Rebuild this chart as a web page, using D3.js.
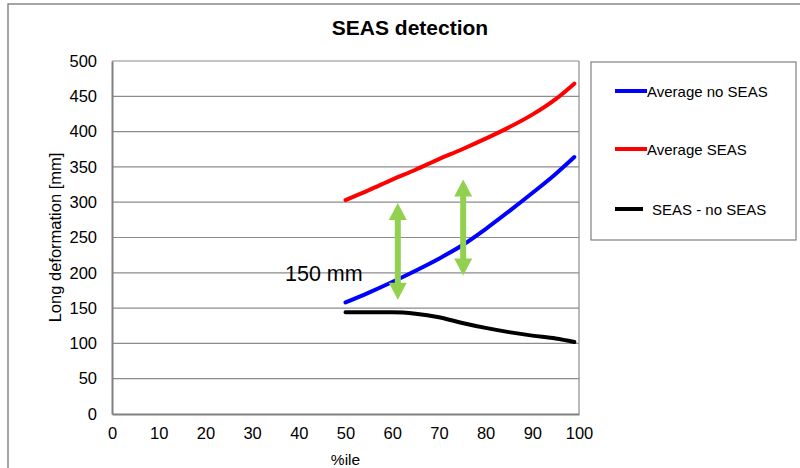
<!DOCTYPE html>
<html>
<head>
<meta charset="utf-8">
<script src="https://cdn.jsdelivr.net/npm/d3@7/dist/d3.min.js"></script>
<style>
  html, body { margin: 0; padding: 0; background: #fff; }
  svg { display: block; font-family: "Liberation Sans", Arial, sans-serif; }
</style>
</head>
<body>
<svg id="chart" width="800" height="468"></svg>
<script>
// Percentile positions along the x axis
const percentiles = [50, 55, 60, 65, 70, 75, 80, 85, 90, 95, 99];
// Long deformation [mm] per series
const avgNoSeas = [158, 172, 187, 203, 220, 239, 262, 287, 313, 340, 364];
const avgSeas   = [303, 317, 332, 346, 361, 375, 390, 406, 424, 446, 468];
const seasDiff  = [144, 144, 144, 142, 137, 129, 122, 116, 111, 107, 102];

const seriesNames  = ["Average no SEAS", "Average SEAS", "SEAS - no SEAS"];
const seriesColors = ["#0000ff", "#ff0000", "#000000"];

const xTicks = [0, 10, 20, 30, 40, 50, 60, 70, 80, 90, 100];
const yTicks = [0, 50, 100, 150, 200, 250, 300, 350, 400, 450, 500];

// Double-headed arrows marking the gap: [percentile, lower mm, upper mm]
const gapArrows = [[61.2, 162, 299], [75.2, 196, 332]];
const gapLabel = "150 mm";

const svg = d3.select("#chart");
const W = 800, H = 468;
const plot = { left: 112, right: 579, top: 61, bottom: 414 };

const x = d3.scaleLinear().domain([0, 100]).range([plot.left, plot.right]);
const y = d3.scaleLinear().domain([0, 500]).range([plot.bottom, plot.top]);

// Outer chart frame
svg.append("rect").attr("x", 8).attr("y", 4).attr("width", W + 10).attr("height", H + 10)
  .attr("fill", "#fff").attr("stroke", "#888").attr("stroke-width", 1.5);

// Title
svg.append("text").attr("x", 410).attr("y", 35).attr("text-anchor", "middle")
  .attr("font-size", 21).attr("font-weight", "bold").attr("fill", "#000")
  .text("SEAS detection");

// Horizontal gridlines
svg.append("g")
  .selectAll("line").data(yTicks.filter(d => d > 0)).join("line")
  .attr("x1", plot.left).attr("x2", plot.right)
  .attr("y1", d => y(d)).attr("y2", d => y(d))
  .attr("stroke", "#8c8c8c").attr("stroke-width", 1.2);

// Right border of the plot area
svg.append("line").attr("x1", plot.right).attr("x2", plot.right)
  .attr("y1", plot.top).attr("y2", plot.bottom)
  .attr("stroke", "#8c8c8c").attr("stroke-width", 1.2);

// Axes
const yAxis = svg.append("g").attr("transform", `translate(${plot.left},0)`)
  .call(d3.axisLeft(y).tickValues(yTicks).tickSize(0).tickPadding(15));
const xAxis = svg.append("g").attr("transform", `translate(0,${plot.bottom})`)
  .call(d3.axisBottom(x).tickValues(xTicks).tickSize(0).tickPadding(13));
[yAxis, xAxis].forEach(g => {
  g.select(".domain").attr("stroke", "#808080").attr("stroke-width", 2);
  g.selectAll("text").attr("font-size", 16.5).attr("fill", "#000")
    .attr("font-family", "Liberation Sans, Arial, sans-serif");
});

// Axis titles
svg.append("text")
  .attr("transform", `translate(61,${(plot.top + plot.bottom) / 2}) rotate(-90)`)
  .attr("text-anchor", "middle").attr("font-size", 16.5).attr("fill", "#000")
  .text("Long deformation [mm]");
svg.append("text").attr("x", (plot.left + plot.right) / 2).attr("y", 465)
  .attr("text-anchor", "middle").attr("font-size", 15.5).attr("fill", "#000")
  .text("%ile");

// Series lines
const seriesValues = [avgNoSeas, avgSeas, seasDiff];
const line = d3.line().x(d => x(d[0])).y(d => y(d[1])).curve(d3.curveMonotoneX);
seriesValues.forEach((vals, i) => {
  svg.append("path")
    .datum(percentiles.map((p, j) => [p, vals[j]]))
    .attr("d", line).attr("fill", "none")
    .attr("stroke", seriesColors[i]).attr("stroke-width", 4)
    .attr("stroke-linecap", "round").attr("stroke-linejoin", "round");
});

// Gap label
svg.append("text").attr("x", 285).attr("y", 281)
  .attr("font-size", 21.5).attr("fill", "#000")
  .text(gapLabel);

// Green double-headed arrows
const shaftHalf = 3, headHalf = 9, headLen = 17;
gapArrows.forEach(([p, lo, hi]) => {
  const cx = x(p), yt = y(hi), yb = y(lo);
  const pts = [
    [cx, yt], [cx + headHalf, yt + headLen], [cx + shaftHalf, yt + headLen],
    [cx + shaftHalf, yb - headLen], [cx + headHalf, yb - headLen], [cx, yb],
    [cx - headHalf, yb - headLen], [cx - shaftHalf, yb - headLen],
    [cx - shaftHalf, yt + headLen], [cx - headHalf, yt + headLen]
  ];
  svg.append("path").attr("d", "M" + pts.map(q => q.join(",")).join("L") + "Z")
    .attr("fill", "#92d050");
});

// Legend
const legend = svg.append("g");
legend.append("rect").attr("x", 591).attr("y", 62).attr("width", 205).attr("height", 178)
  .attr("fill", "#fff").attr("stroke", "#808080").attr("stroke-width", 1.2);
const legendY = [91, 149, 209];
seriesNames.forEach((name, i) => {
  legend.append("line").attr("x1", 615).attr("x2", i === 2 ? 643 : 647)
    .attr("y1", legendY[i]).attr("y2", legendY[i])
    .attr("stroke", seriesColors[i]).attr("stroke-width", 4);
  legend.append("text").attr("x", i === 2 ? 652 : 647).attr("y", legendY[i] + 5.5)
    .attr("font-size", 15).attr("fill", "#000").text(name);
});
</script>
</body>
</html>
